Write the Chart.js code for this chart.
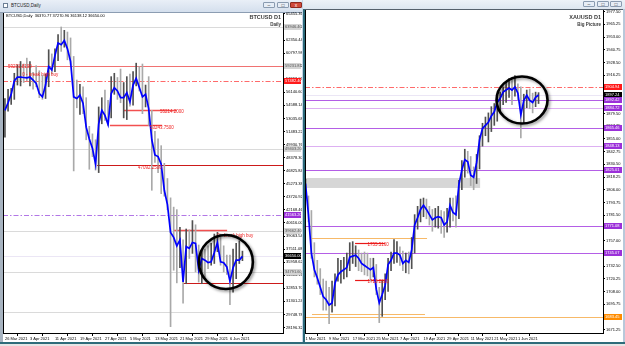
<!DOCTYPE html>
<html>
<head>
<meta charset="utf-8">
<title>BTCUSD / XAUUSD D1</title>
<script src="https://cdn.jsdelivr.net/npm/chart.js@4/dist/chart.umd.min.js"></script>
<style>
  body { margin: 0; width: 625px; height: 346px; overflow: hidden; position: relative; background: #d2deeb; font-family: "Liberation Sans", Arial, sans-serif; }
  .bar { position: absolute; }
  .btn { position: absolute; width: 12px; height: 6px; border: 1px solid #8a9bb0; border-radius: 1px; background: #e6edf6; font-size: 5px; line-height: 4px; text-align: center; color: #333; box-sizing: border-box; }
  canvas { position: absolute; }
</style>
</head>
<body>
<!-- left window chrome -->
<div class="bar" style="left:0;top:0;width:302px;height:12px;background:linear-gradient(#e9eff7,#d4dfed);border-bottom:1px solid #8c9db2"></div>
<div class="bar" style="left:3px;top:3px;width:5px;height:5px;background:#fff;border:1px solid #6d7f95;box-sizing:border-box"></div>
<div class="bar" style="left:11px;top:3px;font-size:4.5px;line-height:5px;color:#222">BTCUSD,Daily</div>
<div class="btn" style="left:263px;top:2px">&#8211;</div>
<div class="btn" style="left:277px;top:2px">&#9633;</div>
<div class="btn" style="left:290px;top:2px;background:#d0493a;border-color:#8e2a20;color:#fff">x</div>
<div class="bar" style="left:0;top:13px;width:3px;height:330px;background:#a7b3c0"></div>
<!-- right window chrome -->
<div class="bar" style="left:303px;top:0;width:322px;height:9px;background:linear-gradient(#edf2f8,#dde6f0);border-bottom:1px solid #55606c"></div>
<div class="btn" style="left:583px;top:1px">&#8211;</div>
<div class="btn" style="left:597px;top:1px">&#9633;</div>
<div class="btn" style="left:610px;top:1px">&#9633;</div>
<div class="bar" style="left:302px;top:0;width:1px;height:343px;background:#c4d4e6"></div>
<div class="bar" style="left:303px;top:9px;width:2px;height:334px;background:#2a6878"></div>
<div class="bar" style="left:623px;top:9px;width:2px;height:334px;background:#b8c8da"></div>
<div class="bar" style="left:0;top:342px;width:625px;height:2px;background:#2e6c7a"></div>
<div class="bar" style="left:0;top:344px;width:625px;height:2px;background:#e6e6e6"></div>

<canvas id="btc" width="299" height="331" style="left:3px;top:11px"></canvas>
<canvas id="xau" width="318" height="334" style="left:305px;top:8px"></canvas>

<script>
// ---- BTCUSD D1, 26 Mar 2021 .. 10 Jun 2021 (bar index = day) ----
var btcDates = ["26 Mar 2021", "3 Apr 2021", "11 Apr 2021", "19 Apr 2021", "27 Apr 2021",
  "5 May 2021", "13 May 2021", "21 May 2021", "29 May 2021", "6 Jun 2021"];
var btcTickDays = [0, 8, 16, 24, 32, 40, 48, 56, 64, 72];
var btcClose = [54000, 54900, 55900, 57500, 57950, 57950, 57900, 57850, 57950, 57600,
  57200, 56000, 55600, 57000, 59200, 58800, 60500, 62000, 61800, 62300,
  61300, 59800, 55600, 55400, 55800, 54800, 52000, 50600, 49500, 47600,
  52400, 54000, 53400, 52300, 56000, 56700, 56300, 55500, 55500, 56100,
  55000, 57000, 57800, 56700, 55600, 55900, 54200, 50500, 48700, 48500,
  47600, 44500, 42800, 39500, 38900, 37900, 38600, 33600, 37800, 37600,
  38300, 38200, 35000, 36400, 36200, 35900, 36000, 37100, 38300, 36000,
  35900, 35400, 33700, 35300, 36200, 36200, 36650];
var btcHigh = [55400, 56500, 56600, 58400, 59400, 59800, 59500, 60200, 59800, 58500,
  59300, 58700, 58200, 58300, 61200, 60700, 61300, 63000, 63900, 63500,
  63300, 62600, 60400, 57600, 57100, 56800, 55500, 52100, 51200, 50500,
  54400, 55500, 56400, 55200, 58000, 58400, 57900, 58900, 57300, 58000,
  58300, 58600, 59600, 59200, 59500, 57000, 58000, 54000, 51500, 50600,
  49800, 47700, 45900, 43600, 42500, 42200, 40100, 38600, 39900, 39800,
  40900, 40400, 38000, 37300, 37500, 37900, 38200, 39300, 39500, 39300,
  37900, 36800, 36800, 37500, 38200, 38500, 37270.96];
var btcLow = [50800, 53900, 54700, 55300, 57000, 56900, 57300, 57500, 56900, 56500,
  56800, 55500, 55300, 55400, 56800, 58300, 58600, 59900, 61000, 61500,
  60000, 59400, 46800, 54300, 53500, 53600, 50500, 47000, 48500, 46900,
  46600, 52400, 52800, 52200, 53100, 55900, 55300, 54900, 53100, 52900,
  54500, 54600, 56900, 56300, 53600, 54400, 52200, 44500, 47800, 46600,
  44100, 43800, 42200, 28300, 35000, 33500, 35300, 31100, 33400, 36400,
  37000, 34800, 33600, 33400, 34200, 35200, 35600, 35800, 37200, 35600,
  34800, 34500, 30900, 32400, 34000, 35800, 36138.12];
var btcPriceTicks = [65455.36, 63902.90, 62350.44, 60797.98, 59245.52, 57693.06, 56140.60,
  54588.14, 53035.68, 51483.22, 49930.76, 48378.30, 46825.84, 45273.38, 43720.92,
  42168.46, 40616.00, 39063.54, 37511.08, 35958.62, 34406.16, 32853.70, 31301.24,
  29748.78, 28196.32];
var btcHeader = "BTCUSD,Daily  36370.77 37270.96 36138.12 36650.00";

// horizontal objects on the BTC chart (from/to = bar index)
var btcLevels = [
  { kind: "grey", price: 63946.40 },
  { kind: "red", price: 59231.81 },
  { kind: "redDash", price: 57482.40 },
  { kind: "redBox", price: 54037.20, from: 37.8, to: 55.0 },
  { kind: "redBox", price: 52255.20, from: 33.6, to: 50.3 },
  { kind: "grey", price: 49403.20 },
  { kind: "redDark", price: 47503.20, from: 29.5 },
  { kind: "purpleDash", price: 41563.20 },
  { kind: "grey", price: 39662.40 },
  { kind: "redBox", price: 39781.20, from: 53.8, to: 71.1 },
  { kind: "bid", price: 36650.00 },
  { kind: "grey", price: 34791.60 },
  { kind: "redDark", price: 33484.80, from: 57.0 },
  { kind: "grey", price: 30039.60 }
];
var btcBoxes = [
  { kind: "grey", price: 63946.40 }, { kind: "grey", price: 59231.81 },
  { kind: "red", price: 57482.40 }, { kind: "grey", price: 49403.20 },
  { kind: "purple", price: 41563.20 }, { kind: "grey", price: 39662.40 },
  { kind: "black", price: 36650.00 }, { kind: "grey", price: 34791.60 }
];
var btcNotes = [
  { text: "59231.8100", day: 1.0, price: 59145.6 },
  { text: "0 - break high buy", day: 5.5, price: 58195.2 },
  { text: "55214.2000", day: 49.6, price: 53799.6 },
  { text: "53243.7500", day: 46.4, price: 51898.8 },
  { text: "47092.2500", day: 42.6, price: 47147.4 },
  { text: "0 - break high buy", day: 67.9, price: 39068.4 }
];
var btcRing = { day: 70.7, price: 35979.6 };

// ---- XAUUSD D1, trading bars from 1 Mar 2021 ----
var xauDates = ["1 Mar 2021", "9 Mar 2021", "17 Mar 2021", "25 Mar 2021", "7 Apr 2021",
  "19 Apr 2021", "29 Apr 2021", "11 May 2021", "21 May 2021", "1 Jun 2021"];
var xauTickBars = [0, 8, 16, 24, 32, 40, 48, 56, 64, 72];
var xauClose = [1812, 1782, 1745, 1729, 1721, 1712, 1703, 1700, 1695, 1697,
  1716, 1724, 1727, 1729, 1731, 1741, 1742, 1743, 1740, 1735,
  1733, 1731, 1729, 1731, 1710, 1697, 1705, 1714, 1734, 1738,
  1745, 1745, 1743, 1735, 1738, 1736, 1748, 1772, 1779, 1787,
  1791, 1787, 1782, 1777, 1779, 1780, 1779, 1772, 1775, 1791,
  1784, 1782, 1811, 1825, 1835, 1833, 1820, 1818, 1832, 1854,
  1865, 1868, 1871, 1877, 1881, 1890, 1894, 1900, 1902, 1904,
  1902, 1905, 1899, 1878, 1892, 1897, 1892, 1890, 1895, 1897.24];
var xauHigh = [1816, 1800, 1786, 1755, 1738, 1730, 1720, 1718, 1712, 1718,
  1725, 1740, 1738, 1741, 1745, 1755, 1756, 1752, 1748, 1745,
  1746, 1745, 1740, 1740, 1734, 1712, 1718, 1725, 1740, 1746,
  1758, 1756, 1751, 1747, 1745, 1746, 1760, 1782, 1790, 1797,
  1798, 1797, 1790, 1787, 1788, 1790, 1786, 1785, 1788, 1798,
  1798, 1800, 1815, 1834, 1845, 1843, 1838, 1828, 1840, 1858,
  1870, 1876, 1880, 1886, 1889, 1895, 1900, 1905, 1910, 1913,
  1912, 1916, 1908, 1905, 1898, 1902, 1903, 1899, 1900, 1899.5];
var xauLow = [1798, 1775, 1740, 1722, 1715, 1705, 1690, 1690, 1677, 1688,
  1694, 1718, 1716, 1720, 1722, 1728, 1735, 1732, 1728, 1727,
  1724, 1723, 1718, 1722, 1705, 1678, 1684, 1700, 1708, 1728,
  1735, 1736, 1733, 1728, 1726, 1725, 1730, 1745, 1768, 1775,
  1780, 1778, 1772, 1766, 1770, 1769, 1764, 1760, 1765, 1770,
  1776, 1770, 1778, 1806, 1818, 1822, 1810, 1806, 1812, 1826,
  1848, 1858, 1852, 1862, 1868, 1872, 1880, 1888, 1890, 1895,
  1888, 1896, 1892, 1856, 1870, 1885, 1884, 1880, 1886, 1889];
var xauPriceTicks = [1977.50, 1965.25, 1953.00, 1940.75, 1928.50, 1916.25, 1904.00,
  1891.75, 1879.50, 1867.25, 1855.00, 1842.75, 1830.50, 1818.25, 1806.00, 1793.75,
  1781.50, 1769.25, 1757.00, 1744.75, 1732.50, 1720.25, 1708.00, 1695.75, 1683.50,
  1671.25];

var xauLevels = [
  { kind: "redDash", price: 1904.94 },
  { kind: "bid", price: 1897.24 },
  { kind: "purple", price: 1892.42 },
  { kind: "lilac", price: 1884.72 },
  { kind: "purple", price: 1865.46 },
  { kind: "lilac", price: 1848.13 },
  { kind: "purple", price: 1825.01 },
  { kind: "purple", price: 1771.08 },
  { kind: "orange", price: 1759.53, from: 1.5, to: 41.2 },
  { kind: "redSeg", price: 1754.71, from: 16.8, to: 26.9 },
  { kind: "purple", price: 1745.07 },
  { kind: "redSeg", price: 1719.08, from: 16.8, to: 26.9 },
  { kind: "orange", price: 1686.34, from: 2.2, to: 40.5 },
  { kind: "orange", price: 1683.45 }
];
var xauZones = [{ from: -1, to: 59.2, top: 1817.3, bottom: 1807.7 }];
var xauBoxes = [
  { kind: "red", price: 1904.94 }, { kind: "black", price: 1897.24 },
  { kind: "purple", price: 1892.42 }, { kind: "purple", price: 1884.72 },
  { kind: "purple", price: 1865.46 }, { kind: "purple", price: 1848.13 },
  { kind: "purple", price: 1825.01 }, { kind: "purple", price: 1771.08 },
  { kind: "purple", price: 1745.07 }, { kind: "orange", price: 1683.45 }
];
var xauNotes = [
  { text: "1755.5160", day: 21, price: 1752.8 },
  { text: "1718.2300", day: 21, price: 1717.2 }
];
var xauRing = { day: 73.4, price: 1892.4 };

// ---- styles ----
var levelStyles = {
  grey: { color: "#dadada", width: 1 },
  red: { color: "#f07272", width: 1 },
  redDash: { color: "#ff6a6a", width: 1.2, dash: [5, 2, 1.5, 2] },
  redBox: { color: "#f25050", width: 1.5 },
  redSeg: { color: "#e81818", width: 1.2 },
  redDark: { color: "#cc1a1a", width: 1.1 },
  purpleDash: { color: "#b277e6", width: 1.2, dash: [5, 2, 1.5, 2] },
  bid: { color: "#ebe6f5", width: 1 },
  purple: { color: "#b45ee6", width: 1.2 },
  lilac: { color: "#ddb0f2", width: 1.2 },
  orange: { color: "#f7b968", width: 1.2 }
};
var boxStyles = {
  grey: { bg: "#d4d4d4", fg: "#555" },
  red: { bg: "#ff1a1a", fg: "#fff" },
  black: { bg: "#000", fg: "#fff" },
  purple: { bg: "#9b30d9", fg: "#fff" },
  orange: { bg: "#ff8c00", fg: "#fff" }
};
var FONT = '"Liberation Sans", Arial, sans-serif';

function barsFrom(highs, lows) {
  var out = [];
  highs.forEach(function (h, i) { out.push({ x: i, y: [lows[i], h] }); });
  return out;
}

function lineFrom(closes) {
  return closes.map(function (c, i) { return { x: i, y: c }; });
}

// down bars light grey, up bars dark grey
function wickColor(closes) {
  return function (c) {
    var i = c.dataIndex;
    var prev = i > 0 ? closes[i - 1] : closes[i];
    return closes[i] >= prev ? "#505050" : "#a9a9a9";
  };
}

// draws the terminal objects: levels, zones, ring, notes, price boxes, captions
function mtPlugin(cfg) {
  return {
    id: "mt",
    beforeDraw: function (chart) {
      var ctx = chart.ctx, a = chart.chartArea;
      ctx.save();
      ctx.fillStyle = "#fff";
      ctx.fillRect(0, a.top, chart.width, chart.height - a.top);
      ctx.restore();
    },
    beforeDatasetsDraw: function (chart) {
      var ctx = chart.ctx, a = chart.chartArea, x = chart.scales.x, y = chart.scales.y;
      ctx.save();
      ctx.beginPath();
      ctx.rect(a.left, a.top, a.right - a.left, a.bottom - a.top);
      ctx.clip();
      (cfg.zones || []).forEach(function (z) {
        var x0 = x.getPixelForValue(z.from), x1 = x.getPixelForValue(z.to);
        var y0 = y.getPixelForValue(z.top), y1 = y.getPixelForValue(z.bottom);
        ctx.fillStyle = "#d6d6d6";
        ctx.fillRect(x0, y0, x1 - x0, y1 - y0);
      });
      cfg.levels.forEach(function (l) {
        var st = levelStyles[l.kind];
        var py = Math.round(y.getPixelForValue(l.price)) + 0.5;
        var x0 = l.from === undefined ? a.left : x.getPixelForValue(l.from);
        var x1 = l.to === undefined ? a.right : x.getPixelForValue(l.to);
        ctx.strokeStyle = st.color;
        ctx.lineWidth = st.width;
        ctx.setLineDash(st.dash || []);
        ctx.beginPath();
        ctx.moveTo(x0, py);
        ctx.lineTo(x1, py);
        ctx.stroke();
      });
      ctx.restore();
    },
    afterDatasetsDraw: function (chart) {
      var ctx = chart.ctx, x = chart.scales.x, y = chart.scales.y;
      ctx.save();
      ctx.font = "4.5px " + FONT;
      ctx.fillStyle = "#f02020";
      ctx.textBaseline = "middle";
      ctx.textAlign = "left";
      cfg.notes.forEach(function (n) {
        ctx.fillText(n.text, x.getPixelForValue(n.day), y.getPixelForValue(n.price));
      });
      // the hand drawn ring
      var cx = x.getPixelForValue(cfg.ring.day), cy = y.getPixelForValue(cfg.ring.price);
      ctx.shadowColor = "rgba(0,0,0,0.45)";
      ctx.shadowBlur = 3;
      ctx.shadowOffsetX = 1.5;
      ctx.shadowOffsetY = 1.5;
      ctx.strokeStyle = "#000";
      ctx.lineWidth = 2.6;
      ctx.beginPath();
      ctx.ellipse(cx, cy, cfg.rx, cfg.ry, 0, 0, Math.PI * 2);
      ctx.stroke();
      ctx.restore();
    },
    afterDraw: function (chart) {
      var ctx = chart.ctx, a = chart.chartArea, y = chart.scales.y;
      ctx.save();
      ctx.strokeStyle = "#000";
      ctx.lineWidth = 1;
      ctx.beginPath();
      ctx.moveTo(a.left + 0.5, a.top);
      ctx.lineTo(a.left + 0.5, a.bottom);
      ctx.stroke();
      ctx.textBaseline = "middle";
      if (cfg.header) {
        ctx.font = "4px " + FONT;
        ctx.fillStyle = "#000";
        ctx.textAlign = "left";
        ctx.fillText(cfg.header, a.left + 3, a.top + 3);
      }
      ctx.textAlign = "right";
      ctx.fillStyle = "#3a3a3a";
      ctx.font = "bold 5.5px " + FONT;
      ctx.fillText(cfg.title, a.right - 2, cfg.titleY);
      ctx.font = "bold 4.5px " + FONT;
      ctx.fillText(cfg.subtitle, a.right - 2, cfg.titleY + 8);
      // price tags on the axis
      ctx.textAlign = "left";
      ctx.font = "4px " + FONT;
      cfg.boxes.forEach(function (b) {
        var st = boxStyles[b.kind];
        var py = Math.round(y.getPixelForValue(b.price));
        var x0 = a.right + 1;
        ctx.fillStyle = st.bg;
        ctx.fillRect(x0, py - 3, chart.width - x0 - 1, 6);
        ctx.fillStyle = st.fg;
        ctx.fillText(b.price.toFixed(2), x0 + 1, py + 0.3);
      });
      ctx.restore();
    }
  };
}

function makeChart(id, cfg) {
  new Chart(id, {
    type: "line",
    data: {
      datasets: [{
        type: "bar",
        data: barsFrom(cfg.high, cfg.low),
        backgroundColor: wickColor(cfg.close),
        barThickness: 1,
        grouped: false,
        order: 2
      }, {
        type: "line",
        data: lineFrom(cfg.close),
        borderColor: "#0000ff",
        borderWidth: 1.7,
        pointRadius: 0,
        tension: 0,
        order: 1
      }]
    },
    options: {
      responsive: false,
      animation: false,
      devicePixelRatio: 1,
      events: [],
      layout: { padding: { top: 2, left: 0, right: 0, bottom: 0 } },
      plugins: { legend: { display: false }, tooltip: { enabled: false } },
      scales: {
        x: {
          type: "linear",
          min: cfg.xMin,
          max: cfg.xMax,
          offset: false,
          grid: { drawOnChartArea: false, tickLength: 3, color: "#000" },
          border: { color: "#000" },
          ticks: {
            font: { family: FONT, size: 4 },
            color: "#000",
            padding: 0,
            align: "start",
            autoSkip: false,
            maxRotation: 0,
            callback: function (v, i) { return cfg.dates[i]; }
          },
          afterBuildTicks: function (s) {
            s.ticks = cfg.tickIdx.map(function (v) { return { value: v }; });
          },
          afterFit: function (s) { s.height = 9; s.paddingLeft = 0; s.paddingRight = 0; }
        },
        y: {
          type: "linear",
          position: "right",
          min: cfg.yMin,
          max: cfg.yMax,
          grid: { drawOnChartArea: false, tickLength: 2, color: "#000" },
          border: { color: "#000" },
          ticks: {
            font: { family: FONT, size: 4 },
            color: "#000",
            padding: 1,
            autoSkip: false,
            callback: function (v) { return v.toFixed(2); }
          },
          afterBuildTicks: function (s) {
            s.ticks = cfg.yTicks.map(function (v) { return { value: v }; });
          },
          afterFit: function (s) { s.width = cfg.axisW; s.paddingTop = 0; s.paddingBottom = 0; }
        }
      }
    },
    plugins: [mtPlugin(cfg)]
  });
}

makeChart("btc", {
  close: btcClose, high: btcHigh, low: btcLow,
  dates: btcDates, tickIdx: btcTickDays, yTicks: btcPriceTicks,
  xMin: -0.62, xMax: 88.98, yMin: 27544.8, yMax: 65560.8, axisW: 19,
  levels: btcLevels, boxes: btcBoxes, notes: btcNotes,
  ring: btcRing, rx: 27, ry: 27,
  header: btcHeader, title: "BTCUSD D1", subtitle: "Daily", titleY: 6
});

makeChart("xau", {
  close: xauClose, high: xauHigh, low: xauLow,
  dates: xauDates, tickIdx: xauTickBars, yTicks: xauPriceTicks,
  xMin: -0.17, xMax: 100.85, yMin: 1668.0, yMax: 1979.1, axisW: 20,
  levels: xauLevels, zones: xauZones, boxes: xauBoxes, notes: xauNotes,
  ring: xauRing, rx: 25.5, ry: 23.5,
  header: null, title: "XAUUSD D1", subtitle: "Big Picture", titleY: 9
});
</script>
</body>
</html>
